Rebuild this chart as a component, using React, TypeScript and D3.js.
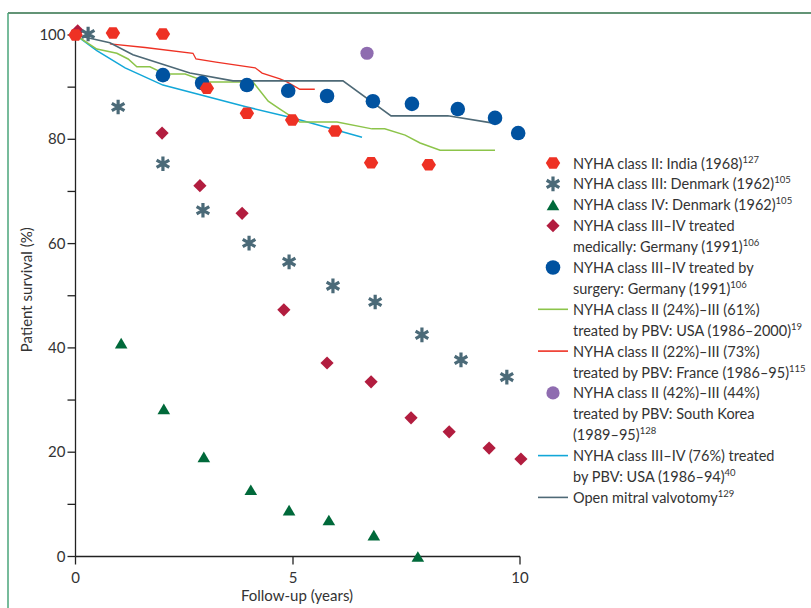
import React from "react";
import * as d3 from "d3";

// ---------- data ----------
const indiaII = [[0, 100], [0.86, 100.4], [2.01, 100.2], [3.02, 89.8], [3.94, 85.0], [4.98, 83.7], [5.93, 81.6], [6.72, 75.5], [7.99, 75.1]];
const denmarkIII = [[0.29, 100.2], [0.98, 86.2], [2.01, 75.3], [2.93, 66.4], [3.99, 60.1], [4.91, 56.5], [5.88, 51.9], [6.81, 48.8], [7.84, 42.5], [8.7, 37.7], [9.71, 34.4]];
const denmarkIV = [[1.05, 40.9], [2.03, 28.3], [2.95, 19.1], [4.03, 12.8], [4.91, 8.9], [5.79, 7.0], [6.78, 4.1], [7.75, 0]];
const germanyMedical = [[0.05, 100.8], [1.99, 81.2], [2.86, 71.1], [3.83, 65.8], [4.79, 47.3], [5.75, 37.1], [6.72, 33.5], [7.6, 26.6], [8.44, 23.9], [9.32, 20.8], [10.02, 18.7]];
const germanySurgery = [[2.01, 92.3], [2.91, 90.8], [3.94, 90.4], [4.89, 89.3], [5.75, 88.3], [6.76, 87.3], [7.62, 86.8], [8.63, 85.8], [9.45, 84.1], [9.96, 81.2]];
const koreaPBV = [[6.63, 96.5]];
const usaPBV2000 = [[0, 100], [0.49, 97.3], [0.95, 96.5], [1.21, 95.4], [1.41, 93.9], [1.71, 93.9], [2.06, 92.5], [2.52, 92.5], [3.02, 91.0], [4.08, 91.0], [4.43, 87.3], [4.7, 85.8], [5.15, 83.3], [5.97, 83.3], [6.74, 82.0], [7.02, 82.0], [7.47, 80.8], [7.8, 79.3], [8.24, 77.9], [9.45, 77.9]];
const francePBV = [[0.79, 98.3], [1.6, 97.6], [2.7, 96.5], [2.77, 95.4], [3.23, 94.8], [4.13, 93.7], [4.29, 92.7], [4.7, 91.6], [4.86, 91.0], [5.15, 89.6], [5.48, 89.6]];
const usaPBV94 = [[0, 100], [0.49, 97.0], [1.14, 93.7], [2.01, 90.4], [3.94, 86.2], [5.0, 84.1], [6.52, 80.4]];
const openValvotomy = [[0, 100], [0.79, 98.5], [1.32, 96.2], [2.63, 92.7], [3.62, 91.2], [5.15, 91.2], [6.1, 91.2], [7.16, 84.5], [8.41, 84.5], [9.41, 83.1]];

const xTicks = [0, 5, 10];
const yTicks = [0, 10, 20, 30, 40, 50, 60, 70, 80, 90, 100];
const yTickLabels = ["0", "", "20", "", "40", "", "60", "", "80", "", "100"];
const xAxisTitle = "Follow-up (years)";
const yAxisTitle = "Patient survival (%)";

const legendLines = [
  ["NYHA class II: India (1968)"],
  ["NYHA class III: Denmark (1962)"],
  ["NYHA class IV: Denmark (1962)"],
  ["NYHA class III–IV treated", "medically: Germany (1991)"],
  ["NYHA class III–IV treated by", "surgery: Germany (1991)"],
  ["NYHA class II (24%)–III (61%)", "treated by PBV: USA (1986–2000)"],
  ["NYHA class II (22%)–III (73%)", "treated by PBV: France (1986–95)"],
  ["NYHA class II (42%)–III (44%)", "treated by PBV: South Korea", "(1989–95)"],
  ["NYHA class III–IV (76%) treated", "by PBV: USA (1986–94)"],
  ["Open mitral valvotomy"],
];
const legendRefs = ["127", "105", "105", "106", "106", "19", "115", "128", "40", "129"];

// ---------- styles ----------
const C = {
  red: "#ee3124",
  aster: "#4b6a78",
  tri: "#00693a",
  diamond: "#b21d3f",
  blue: "#0052a0",
  green: "#8cc44a",
  purple: "#8f6cb0",
  cyan: "#12a7d8",
  gray: "#4e6976",
  axis: "#222",
  text: "#333",
};
const FONT = "Lato, 'Open Sans', sans-serif";

// custom symbol types (size = radius)
const hexType = {
  draw(ctx: any, r: number) {
    for (let i = 0; i < 6; i++) {
      const a = (Math.PI / 3) * i;
      const x = r * Math.cos(a), y = r * Math.sin(a) * 0.92;
      if (i === 0) ctx.moveTo(x, y); else ctx.lineTo(x, y);
    }
    ctx.closePath();
  },
};
const diamondType = {
  draw(ctx: any, r: number) {
    ctx.moveTo(0, -r); ctx.lineTo(r, 0); ctx.lineTo(0, r); ctx.lineTo(-r, 0); ctx.closePath();
  },
};
const triType = {
  draw(ctx: any, r: number) {
    const h = r * 1.7, w = r * 2;
    ctx.moveTo(0, -h / 2); ctx.lineTo(w / 2, h / 2); ctx.lineTo(-w / 2, h / 2); ctx.closePath();
  },
};

const hexPath = d3.symbol().type(hexType as any).size(7.2)();
const diamondPath = d3.symbol().type(diamondType as any).size(6.6)();
const triPath = d3.symbol().type(triType as any).size(6.3)();
const asterPath = d3.symbol().type(d3.symbolAsterisk).size(150)();

const x = d3.scaleLinear().domain([0, 5, 10]).range([75.5, 293, 520]);
const y = d3.scaleLinear().domain([0, 100]).range([556.5, 35]);
const line = d3.line<number[]>().x((d) => x(d[0])).y((d) => y(d[1]));

type MarkerKind = "hex" | "aster" | "tri" | "diamond" | "circle" | "purple" | "line";
const legendKinds: { kind: MarkerKind; color: string }[] = [
  { kind: "hex", color: C.red },
  { kind: "aster", color: C.aster },
  { kind: "tri", color: C.tri },
  { kind: "diamond", color: C.diamond },
  { kind: "circle", color: C.blue },
  { kind: "line", color: C.green },
  { kind: "line", color: C.red },
  { kind: "purple", color: C.purple },
  { kind: "line", color: C.cyan },
  { kind: "line", color: C.gray },
];

function Marker({ kind, color, cx, cy }: { kind: MarkerKind; color: string; cx: number; cy: number }) {
  const t = `translate(${cx},${cy})`;
  switch (kind) {
    case "hex": return <path d={hexPath!} transform={t} fill={color} />;
    case "diamond": return <path d={diamondPath!} transform={t} fill={color} />;
    case "tri": return <path d={triPath!} transform={t} fill={color} />;
    case "aster": return <path d={asterPath!} transform={t} fill="none" stroke={color} strokeWidth={3.2} />;
    case "circle": return <circle cx={cx} cy={cy} r={7.3} fill={color} />;
    case "purple": return <circle cx={cx} cy={cy} r={6.6} fill={color} />;
    default: return <line x1={cx - 15} x2={cx + 15} y1={cy} y2={cy} stroke={color} strokeWidth={1.6} />;
  }
}

export default function App() {
  const lineH = 20.9;
  const legendX = 553;
  const textX = 573;
  let row = 0;
  const legendItems = legendLines.map((lines, i) => {
    const startRow = row;
    row += lines.length;
    const cy = 163 + startRow * lineH;
    return (
      <g key={i}>
        <Marker kind={legendKinds[i].kind} color={legendKinds[i].color} cx={legendX} cy={cy} />
        {lines.map((ln, j) => (
          <text key={j} x={textX} y={cy + j * lineH + 5.5} fontSize={14.5} fill={C.text} fontFamily={FONT}>
            {ln}
            {j === lines.length - 1 && (
              <tspan dy={-6} fontSize={9.5}>{legendRefs[i]}</tspan>
            )}
          </text>
        ))}
      </g>
    );
  });

  return (
    <svg width={811} height={608} style={{ position: "absolute", left: 0, top: 0, background: "#fff" }} fontFamily={FONT}>
      {/* frame */}
      <line x1={8} x2={811} y1={13} y2={13} stroke="#2f7049" strokeWidth={1.5} />
      <line x1={8} x2={8} y1={13} y2={608} stroke="#4aa57a" strokeWidth={1.5} />

      {/* axes */}
      <g stroke={C.axis} strokeWidth={1.3}>
        <line x1={x(0)} x2={x(0)} y1={y(100)} y2={y(0)} />
        <line x1={x(0)} x2={x(10)} y1={y(0)} y2={y(0)} />
        {yTicks.map((t) => (
          <line key={t} x1={x(0) - 8} x2={x(0)} y1={y(t)} y2={y(t)} />
        ))}
        {xTicks.map((t) => (
          <line key={t} x1={x(t)} x2={x(t)} y1={y(0)} y2={y(0) + 8} />
        ))}
      </g>
      {yTicks.map((t, i) => (
        <text key={t} x={x(0) - 10} y={y(t) + 5} textAnchor="end" fontSize={15} fill={C.text}>{yTickLabels[i]}</text>
      ))}
      {xTicks.map((t) => (
        <text key={t} x={x(t)} y={y(0) + 26} textAnchor="middle" fontSize={15} fill={C.text}>{t}</text>
      ))}
      <text x={297} y={601} textAnchor="middle" fontSize={15} fill={C.text}>{xAxisTitle}</text>
      <text transform={`translate(32,${(y(0) + y(100)) / 2 - 6}) rotate(-90)`} textAnchor="middle" fontSize={15} fill={C.text}>{yAxisTitle}</text>

      {/* lines */}
      <path d={line(usaPBV94 as any)!} fill="none" stroke={C.cyan} strokeWidth={1.5} />
      <path d={line(usaPBV2000 as any)!} fill="none" stroke={C.green} strokeWidth={1.5} />
      <path d={line(francePBV as any)!} fill="none" stroke={C.red} strokeWidth={1.3} />
      <path d={line(openValvotomy as any)!} fill="none" stroke={C.gray} strokeWidth={1.6} />

      {/* markers */}
      {koreaPBV.map((d, i) => <Marker key={i} kind="purple" color={C.purple} cx={x(d[0])} cy={y(d[1])} />)}
      {germanySurgery.map((d, i) => <Marker key={i} kind="circle" color={C.blue} cx={x(d[0])} cy={y(d[1])} />)}
      {germanyMedical.map((d, i) => <Marker key={i} kind="diamond" color={C.diamond} cx={x(d[0])} cy={y(d[1])} />)}
      {denmarkIV.map((d, i) => <Marker key={i} kind="tri" color={C.tri} cx={x(d[0])} cy={y(d[1])} />)}
      {denmarkIII.map((d, i) => <Marker key={i} kind="aster" color={C.aster} cx={x(d[0])} cy={y(d[1])} />)}
      {indiaII.map((d, i) => <Marker key={i} kind="hex" color={C.red} cx={x(d[0])} cy={y(d[1])} />)}

      {/* legend */}
      {legendItems}
    </svg>
  );
}
